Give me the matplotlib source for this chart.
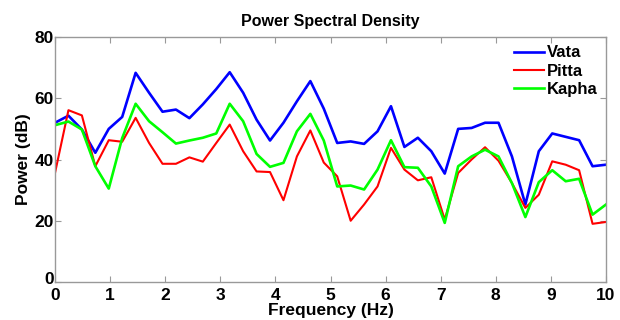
import numpy as np
import matplotlib
matplotlib.use("Agg")
import matplotlib.pyplot as plt
from matplotlib.transforms import ScaledTranslation

# Frequency axis: 42 bins from 0 to 10 Hz
freq = np.linspace(0, 10, 42)

vata = [52.0, 54.3, 49.8, 42.2, 50.0, 53.9, 68.3, 61.8, 55.6, 56.3,
        53.5, 58.0, 63.0, 68.5, 61.8, 53.0, 46.2, 52.0, 59.0, 65.6,
        56.6, 45.4, 45.9, 45.1, 49.2, 57.4, 44.1, 47.1, 42.7, 35.4,
        50.0, 50.3, 52.0, 52.0, 41.0, 25.3, 42.7, 48.5, 47.4, 46.3,
        37.8, 38.3]
pitta = [35.6, 56.1, 54.4, 37.8, 46.3, 45.8, 53.6, 45.4, 38.6, 38.6,
         40.7, 39.3, 45.4, 51.4, 42.7, 36.1, 35.9, 26.7, 41.0, 49.5,
         39.0, 34.5, 20.0, 25.3, 31.2, 43.8, 36.7, 33.2, 34.2, 20.4,
         35.6, 40.0, 44.0, 39.6, 32.3, 24.2, 28.5, 39.4, 38.3, 36.5,
         19.0, 19.6]
kapha = [51.2, 52.4, 49.8, 37.8, 30.5, 47.0, 58.2, 52.5, 48.9, 45.2,
         46.2, 47.1, 48.5, 58.2, 52.5, 41.8, 37.6, 38.9, 49.2, 54.9,
         46.2, 31.2, 31.5, 30.2, 36.7, 46.3, 37.5, 37.3, 31.2, 19.3,
         37.8, 41.0, 43.2, 41.0, 32.3, 21.2, 32.6, 36.5, 32.9, 33.7,
         22.0, 25.3]

plt.rcParams['font.family'] = ['Liberation Sans', 'DejaVu Sans']
plt.rcParams['font.weight'] = 'bold'

fig = plt.figure(figsize=(6.2, 3.2), dpi=100)
ax = fig.add_axes([55/620, 1 - 282/320, 551/620, 245/320])

ax.plot(freq, vata, color=(0, 0, 1), lw=1.9, label='Vata')
ax.plot(freq, pitta, color=(1, 0, 0), lw=1.5, label='Pitta')
ax.plot(freq, kapha, color=(0, 1, 0), lw=1.9, label='Kapha')

ax.set_xlim(0, 10)
ax.set_ylim(0, 80)
ax.set_xticks(np.arange(0, 11, 1))
ax.set_yticks(np.arange(0, 81, 20))
ax.tick_params(direction='in', top=True, right=True, length=4, width=0.8,
               color='#999999', labelsize=12.5)
ax.tick_params(axis='x', pad=4)
ax.tick_params(axis='y', pad=1)
for lab in ax.get_xticklabels() + ax.get_yticklabels():
    lab.set_fontweight('bold')
for s in ax.spines.values():
    s.set_color('#999999')
    s.set_linewidth(1.0)

# nudge the y "0" up a little so it does not sit on the x "0"
zero_lab = ax.get_yticklabels()[0]
zero_lab.set_transform(zero_lab.get_transform() + ScaledTranslation(0, 3/72, fig.dpi_scale_trans))

ax.set_title('Power Spectral Density', fontsize=11.5, fontweight='bold', pad=8)
ax.set_xlabel('Frequency (Hz)', fontsize=12.5, fontweight='bold', labelpad=0)
ax.set_ylabel('Power (dB)', fontsize=12.5, fontweight='bold', labelpad=2)

leg = ax.legend(loc='upper right', frameon=False, fontsize=12,
                handlelength=1.8, handletextpad=0.2, labelspacing=0.2,
                borderaxespad=0.1)
for t in leg.get_texts():
    t.set_fontweight('bold')

fig.savefig('out.png', dpi=100)
